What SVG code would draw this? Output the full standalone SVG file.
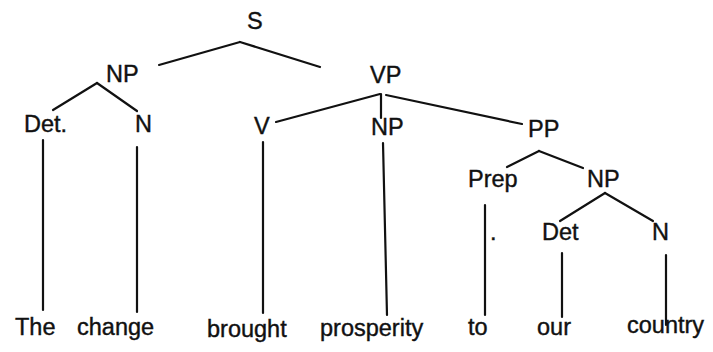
<svg xmlns="http://www.w3.org/2000/svg" width="713" height="352" viewBox="0 0 713 352">
<style>
text{font-family:"Liberation Sans",Arial,sans-serif;font-size:23.5px;fill:#111;stroke:#111;stroke-width:0.4}
.e line{stroke:#111;stroke-width:2.2;stroke-linecap:round}
</style>
<rect width="713" height="352" fill="#fff"/>
<g class="e" id="connectors">
<line x1="159" y1="65" x2="240" y2="42"/><line x1="240" y1="42" x2="320" y2="67"/>
<line x1="97" y1="83" x2="53" y2="110"/><line x1="97" y1="83" x2="137" y2="111"/>
<line x1="43" y1="140" x2="43" y2="310"/>
<line x1="137" y1="147" x2="137" y2="312"/>
<line x1="263" y1="142" x2="263" y2="313"/>
<line x1="276" y1="122" x2="380" y2="94"/>
<line x1="381" y1="94" x2="381" y2="118"/>
<line x1="386" y1="95" x2="522" y2="124"/>
<line x1="383" y1="143" x2="387" y2="315"/>
<line x1="539" y1="151" x2="507" y2="167"/><line x1="539" y1="151" x2="583" y2="168"/>
<line x1="485" y1="205" x2="485" y2="315"/>
<line x1="605" y1="193" x2="560" y2="221"/><line x1="605" y1="193" x2="653" y2="221"/>
<line x1="562" y1="253" x2="562" y2="317"/>
<line x1="666" y1="255" x2="666" y2="325"/>
</g>
<g id="S"><text x="247" y="29">S</text></g>
<g id="NP1"><text x="106" y="82">NP</text></g>
<g id="Det1"><text x="24" y="132">Det.</text></g>
<g id="N1"><text x="135" y="132">N</text></g>
<g id="VP"><text x="370" y="83">VP</text></g>
<g id="V"><text x="254" y="134">V</text></g>
<g id="NP2"><text x="371" y="135">NP</text></g>
<g id="PP"><text x="528" y="137">PP</text></g>
<g id="Prep"><text x="468" y="187">Prep</text><text x="490" y="240">.</text></g>
<g id="NP3"><text x="587" y="187">NP</text></g>
<g id="Det2"><text x="542" y="240">Det</text></g>
<g id="N3"><text x="652" y="240">N</text></g>
<g id="words">
<text x="15" y="335">The</text>
<text x="77" y="335">change</text>
<text x="207" y="337">brought</text>
<text x="320" y="336">prosperity</text>
<text x="468" y="335">to</text>
<text x="537" y="335">our</text>
<text x="627" y="333">country</text>
</g>
</svg>
